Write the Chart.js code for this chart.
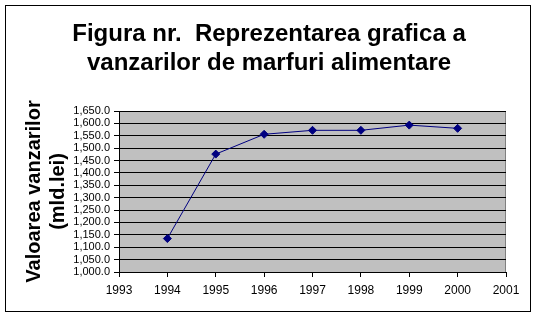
<!DOCTYPE html>
<html>
<head>
<meta charset="utf-8">
<script src="https://cdn.jsdelivr.net/npm/chart.js@4/dist/chart.umd.min.js"></script>
<style>
  html, body { margin: 0; padding: 0; background: #ffffff; }
  #wrap { width: 538px; height: 318px; }
</style>
</head>
<body>
<div id="wrap"><canvas id="salesChart" width="538" height="318"></canvas></div>
<script>
// ======================================================
// DATA
// ======================================================

const years = [1994, 1995, 1996, 1997, 1998, 1999, 2000];

const salesValues = [1135, 1476, 1556, 1572, 1572, 1593, 1580];

const titleLines = ["Figura nr.  Reprezentarea grafica a", "vanzarilor de marfuri alimentare"];

const yTitleLines = ["Valoarea vanzarilor", "(mld.lei)"];

const FONT = "Arial, 'Liberation Sans', sans-serif";

// ======================================================
// FRAME, PLOT BACKGROUND, TITLE
// ======================================================

const framePlugin = {
    id: "frame",
    beforeDraw(chart) {
        const ctx = chart.ctx;
        const a = chart.chartArea;
        ctx.save();
        ctx.fillStyle = "#ffffff";
        ctx.fillRect(0, 0, chart.width, chart.height);
        ctx.strokeStyle = "#000000";
        ctx.lineWidth = 1;
        ctx.strokeRect(5.5, 5.5, 525, 306);
        ctx.fillStyle = "#c0c0c0";
        ctx.fillRect(a.left, a.top, a.right - a.left, a.bottom - a.top);
        ctx.strokeStyle = "#808080";
        ctx.strokeRect(a.left + 0.5, a.top + 0.5, a.right - a.left - 1, a.bottom - a.top);

        // chart title, centred on the frame
        ctx.fillStyle = "#000000";
        ctx.font = "bold 24px " + FONT;
        ctx.textAlign = "center";
        ctx.textBaseline = "middle";
        ctx.fillText(titleLines[0], 269, 34);
        ctx.fillText(titleLines[1], 269, 63);
        ctx.restore();
    }
};

const points = years.map(function (y, i) {
    return { x: y, y: salesValues[i] };
});

const ctx = document.getElementById("salesChart").getContext("2d");

new Chart(ctx, {

    type: "line",

    data: {
        datasets: [
            {
                data: points,
                borderColor: "#000080",
                backgroundColor: "#000080",
                borderWidth: 1,
                pointStyle: "rectRot",
                pointRadius: 4,
                pointBorderWidth: 1,
                tension: 0
            }
        ]
    },

    options: {
        responsive: false,
        animation: false,
        layout: {
            padding: { left: 0, right: 32, top: 111, bottom: 0 }
        },
        plugins: {
            legend: { display: false },
            tooltip: { enabled: false },
            title: { display: false }
        },
        scales: {
            x: {
                type: "linear",
                min: 1993,
                max: 2001,
                afterFit: function (scale) { scale.height = 46; },
                ticks: {
                    stepSize: 1,
                    autoSkip: false,
                    color: "#000000",
                    padding: 6,
                    font: { family: FONT, size: 12 },
                    callback: function (v) { return String(v); }
                },
                grid: {
                    drawOnChartArea: false,
                    drawTicks: true,
                    tickLength: 5,
                    tickColor: "#000000"
                },
                border: { color: "#000000", width: 1 }
            },
            y: {
                min: 1000,
                max: 1650,
                afterFit: function (scale) { scale.width = 119; },
                ticks: {
                    stepSize: 50,
                    autoSkip: false,
                    color: "#000000",
                    padding: 4,
                    font: { family: FONT, size: 11 },
                    callback: function (v) {
                        return v.toLocaleString("en-US", { minimumFractionDigits: 1, maximumFractionDigits: 1 });
                    }
                },
                grid: {
                    color: "#000000",
                    tickLength: 5,
                    tickColor: "#000000"
                },
                border: { color: "#000000", width: 1 },
                title: {
                    display: true,
                    text: yTitleLines,
                    color: "#000000",
                    font: { family: FONT, size: 20, weight: "bold", lineHeight: 1.2 },
                    padding: { top: 22, bottom: 0 }
                }
            }
        }
    },

    plugins: [framePlugin]

});
</script>
</body>
</html>
